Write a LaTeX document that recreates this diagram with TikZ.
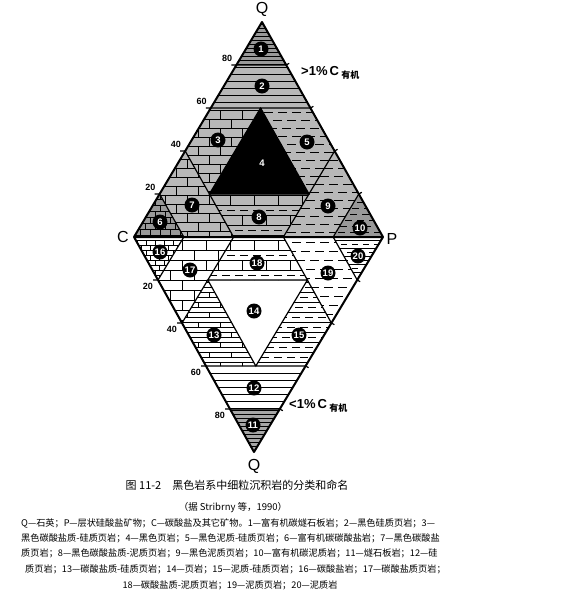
\documentclass[tikz,border=0pt]{standalone}
\usepackage{fontspec}
\setmainfont{Liberation Serif}
\setsansfont{Liberation Sans}
\newfontfamily\cjk{Noto Sans CJK SC}
\XeTeXlinebreaklocale "zh"
\XeTeXlinebreakskip=0pt plus 2pt
\usetikzlibrary{positioning}

\tikzset{
  edge/.style={line width=2pt,line join=round},
  part/.style={line width=1.2pt},
  hatch/.style={line width=0.4pt},
  num/.style={circle,fill=black,text=white,inner sep=0.5pt,minimum size=15pt,font=\sffamily\bfseries\fontsize{9.5}{9.5}\selectfont},
  corner/.style={font=\sffamily\fontsize{16}{16}\selectfont},
  tick/.style={inner sep=0pt,font=\sffamily\bfseries\fontsize{9}{9}\selectfont},
  carbon/.style={anchor=west,inner sep=0pt,font=\sffamily\bfseries\fontsize{13}{13}\selectfont},
  capline/.style={anchor=west,inner sep=0pt,font=\cjk\fontsize{9.2}{9.2}\selectfont}
}

\newcommand{\hrows}[3]{\pgfmathtruncatemacro\nrow{(#2-#1)/#3}
  \foreach \i in {0,...,\nrow}{\pgfmathsetmacro\yy{#1+\i*#3}\draw[hatch] (110,\yy) -- (410,\yy);}}
\newcommand{\drows}[4]{\pgfmathtruncatemacro\nrow{(#2-#1)/#3}
  \foreach \i in {0,...,\nrow}{\pgfmathsetmacro\yy{#1+\i*#3}\pgfmathsetmacro\ph{mod(\i,3)*5}
    \draw[hatch,dash pattern=on #4 off 5pt,dash phase=\ph pt] (110,\yy) -- (410,\yy);}}
\newcommand{\jrows}[5]{\pgfmathtruncatemacro\nrow{(#2-#1)/#3}\pgfmathtruncatemacro\ncol{300/#4}
  \foreach \i in {0,...,\nrow}{\pgfmathsetmacro\yy{#1+\i*#3}\pgfmathsetmacro\xo{110+mod(\i,2)*#4/2}
    \foreach \jj in {0,...,\ncol}{\draw[hatch] ({\xo+\jj*#4},\yy) -- ++(0,#5);}}}
\newcommand{\zone}[3]{\begin{scope}\clip #1 -- cycle;\fill[#2] (110,0) rectangle (410,470);#3\end{scope}}

\begin{document}
\begin{tikzpicture}[x=1pt,y=-1pt]
\useasboundingbox (0,0) rectangle (570,600);
\fill[white] (0,0) rectangle (570,600);
\foreach \q in {0,...,5}{\foreach \p in {0,...,5}{
  \coordinate (U\q\p) at ({134+49.8*\p+25.6*\q},{237-43*\q});
  \coordinate (L\q\p) at ({134+49.8*\p+24*\q},{237+43*\q});}}

\zone{(U40) -- (U50) -- (U41)}{black!40}{\hrows{24}{66}{4}}
\zone{(U30) -- (U40) -- (U41) -- (U32)}{black!28}{\hrows{67}{108}{7}}
\zone{(U30) -- (U20) -- (U11) -- (U31)}{black!28}{\hrows{110}{200}{9}\jrows{110}{200}{9}{22}{9}}
\zone{(U31) -- (U32) -- (U23) -- (U13)}{black!28}{\drows{112}{200}{8}{9pt}}
\zone{(U10) -- (U00) -- (U01)}{black!40}{\hrows{193}{237}{6}\jrows{193}{237}{6}{10}{6}}
\zone{(U20) -- (U10) -- (U01) -- (U02)}{black!28}{\hrows{150}{237}{9}\jrows{150}{237}{9}{22}{9}}
\zone{(U11) -- (U13) -- (U03) -- (U02)}{black!28}{\hrows{195}{237}{10}\jrows{195}{237}{20}{24}{10}\drows{210}{237}{20}{8pt}}
\zone{(U23) -- (U03) -- (U04) -- (U14)}{black!28}{\drows{152}{237}{8}{9pt}}
\zone{(U14) -- (U04) -- (U05)}{black!40}{\drows{196}{237}{6}{7pt}}
\fill (U31) -- (U11) -- (U13) -- cycle;

\zone{(L40) -- (L50) -- (L41)}{black!35}{\hrows{410}{452}{4}}
\zone{(L30) -- (L40) -- (L41) -- (L32)}{white}{\hrows{373}{409}{7}}
\zone{(L30) -- (L20) -- (L11) -- (L31)}{white}{\hrows{282}{366}{5}\jrows{282}{366}{10}{22}{5}}
\zone{(L31) -- (L32) -- (L23) -- (L13)}{white}{\hrows{282}{366}{10}\drows{287}{366}{10}{8pt}}
\zone{(L10) -- (L00) -- (L01)}{white}{\hrows{240}{281}{5}\jrows{240}{281}{5}{9}{5}}
\zone{(L20) -- (L10) -- (L01) -- (L02)}{white}{\hrows{240}{324}{10}\jrows{240}{324}{10}{24}{10}}
\zone{(L11) -- (L13) -- (L03) -- (L02)}{white}{\hrows{240}{281}{10}\jrows{240}{281}{20}{24}{10}\drows{255}{281}{20}{8pt}}
\zone{(L23) -- (L03) -- (L04) -- (L14)}{white}{\drows{242}{324}{9}{9pt}}
\zone{(L14) -- (L04) -- (L05)}{white}{\hrows{240}{281}{8}\drows{244}{281}{8}{6pt}}

\foreach \h in {U,L}{
  \draw[part] (\h40) -- (\h41) (\h30) -- (\h32) (\h20) -- (\h02) (\h23) -- (\h03)
    (\h10) -- (\h01) (\h14) -- (\h04) (\h31) -- (\h11) -- (\h13) -- cycle;}
\draw[edge] (U00) -- (U50) -- (U05) -- (L50) -- cycle (U00) -- (U05);

\foreach \q/\r/\t in {1/4/20,2/3/40,3/2/60,4/1/80}{
  \draw[part] (U\q0) -- ++(-5,0) (U\q\r) -- ++(3,-1.7) (L\q0) -- ++(-5,0) (L\q\r) -- ++(3,1.7);
  \path (U\q0) ++(-4,-3) node[tick,anchor=south east] (tu\t) {\t};
  \path (L\q0) ++(-5,3) node[tick,anchor=north east] (tl\t) {\t};}

\foreach \k/\x/\y in {1/261/49,2/262/86,3/218/140,4/262/163,5/307/142,6/160/222,7/192/205,
  8/259/217,9/328/206,10/360/228,11/253/425,12/254/388,13/214/335,14/254/311,15/299/335,
  16/160/252,17/190/270,18/257/263,19/328/273,20/358/256}
  \node[num] (n\k) at (\x,\y) {\k};

\node[corner] (qtop) at (262,9) {Q};
\node[corner] (cleft) at (123,237) {C};
\node[corner] (pright) at (392,239) {P};
\node[corner] (qbot) at (254,466) {Q};
\node[carbon] (orgup) at (301,73) {>1\%\,C\,{\cjk\fontsize{9}{9}\selectfont\raisebox{-0.7ex}{有机}}};
\node[carbon] (orglow) at (289,406) {<1\%\,C\,{\cjk\fontsize{9}{9}\selectfont\raisebox{-0.7ex}{有机}}};

\node[font=\cjk\fontsize{11}{11}\selectfont] (title) at (237,485) {图 11-2\quad 黑色岩系中细粒沉积岩的分类和命名};
\node[font=\cjk\fontsize{9.5}{9.5}\selectfont] (source) at (233,508) {（据 Stribrny 等，1990）};
\node[capline] (cap1) at (21,523) {\hbox to 419pt{Q—石英；P—层状硅酸盐矿物；C—碳酸盐及其它矿物。1—富有机碳燧石板岩；2—黑色硅质页岩；3—}};
\node[capline] (cap2) at (21,538) {\hbox to 419pt{黑色碳酸盐质-硅质页岩；4—黑色页岩；5—黑色泥质-硅质页岩；6—富有机碳碳酸盐岩；7—黑色碳酸盐}};
\node[capline] (cap3) at (21,553) {\hbox to 419pt{质页岩；8—黑色碳酸盐质-泥质页岩；9—黑色泥质页岩；10—富有机碳泥质岩；11—燧石板岩；12—硅}};
\node[capline] (cap4) at (25,569) {\hbox to 418pt{质页岩；13—碳酸盐质-硅质页岩；14—页岩；15—泥质-硅质页岩；16—碳酸盐岩；17—碳酸盐质页岩；}};
\node[capline,anchor=center] (cap5) at (230,585) {18—碳酸盐质-泥质页岩；19—泥质页岩；20—泥质岩};
\end{tikzpicture}
\end{document}
